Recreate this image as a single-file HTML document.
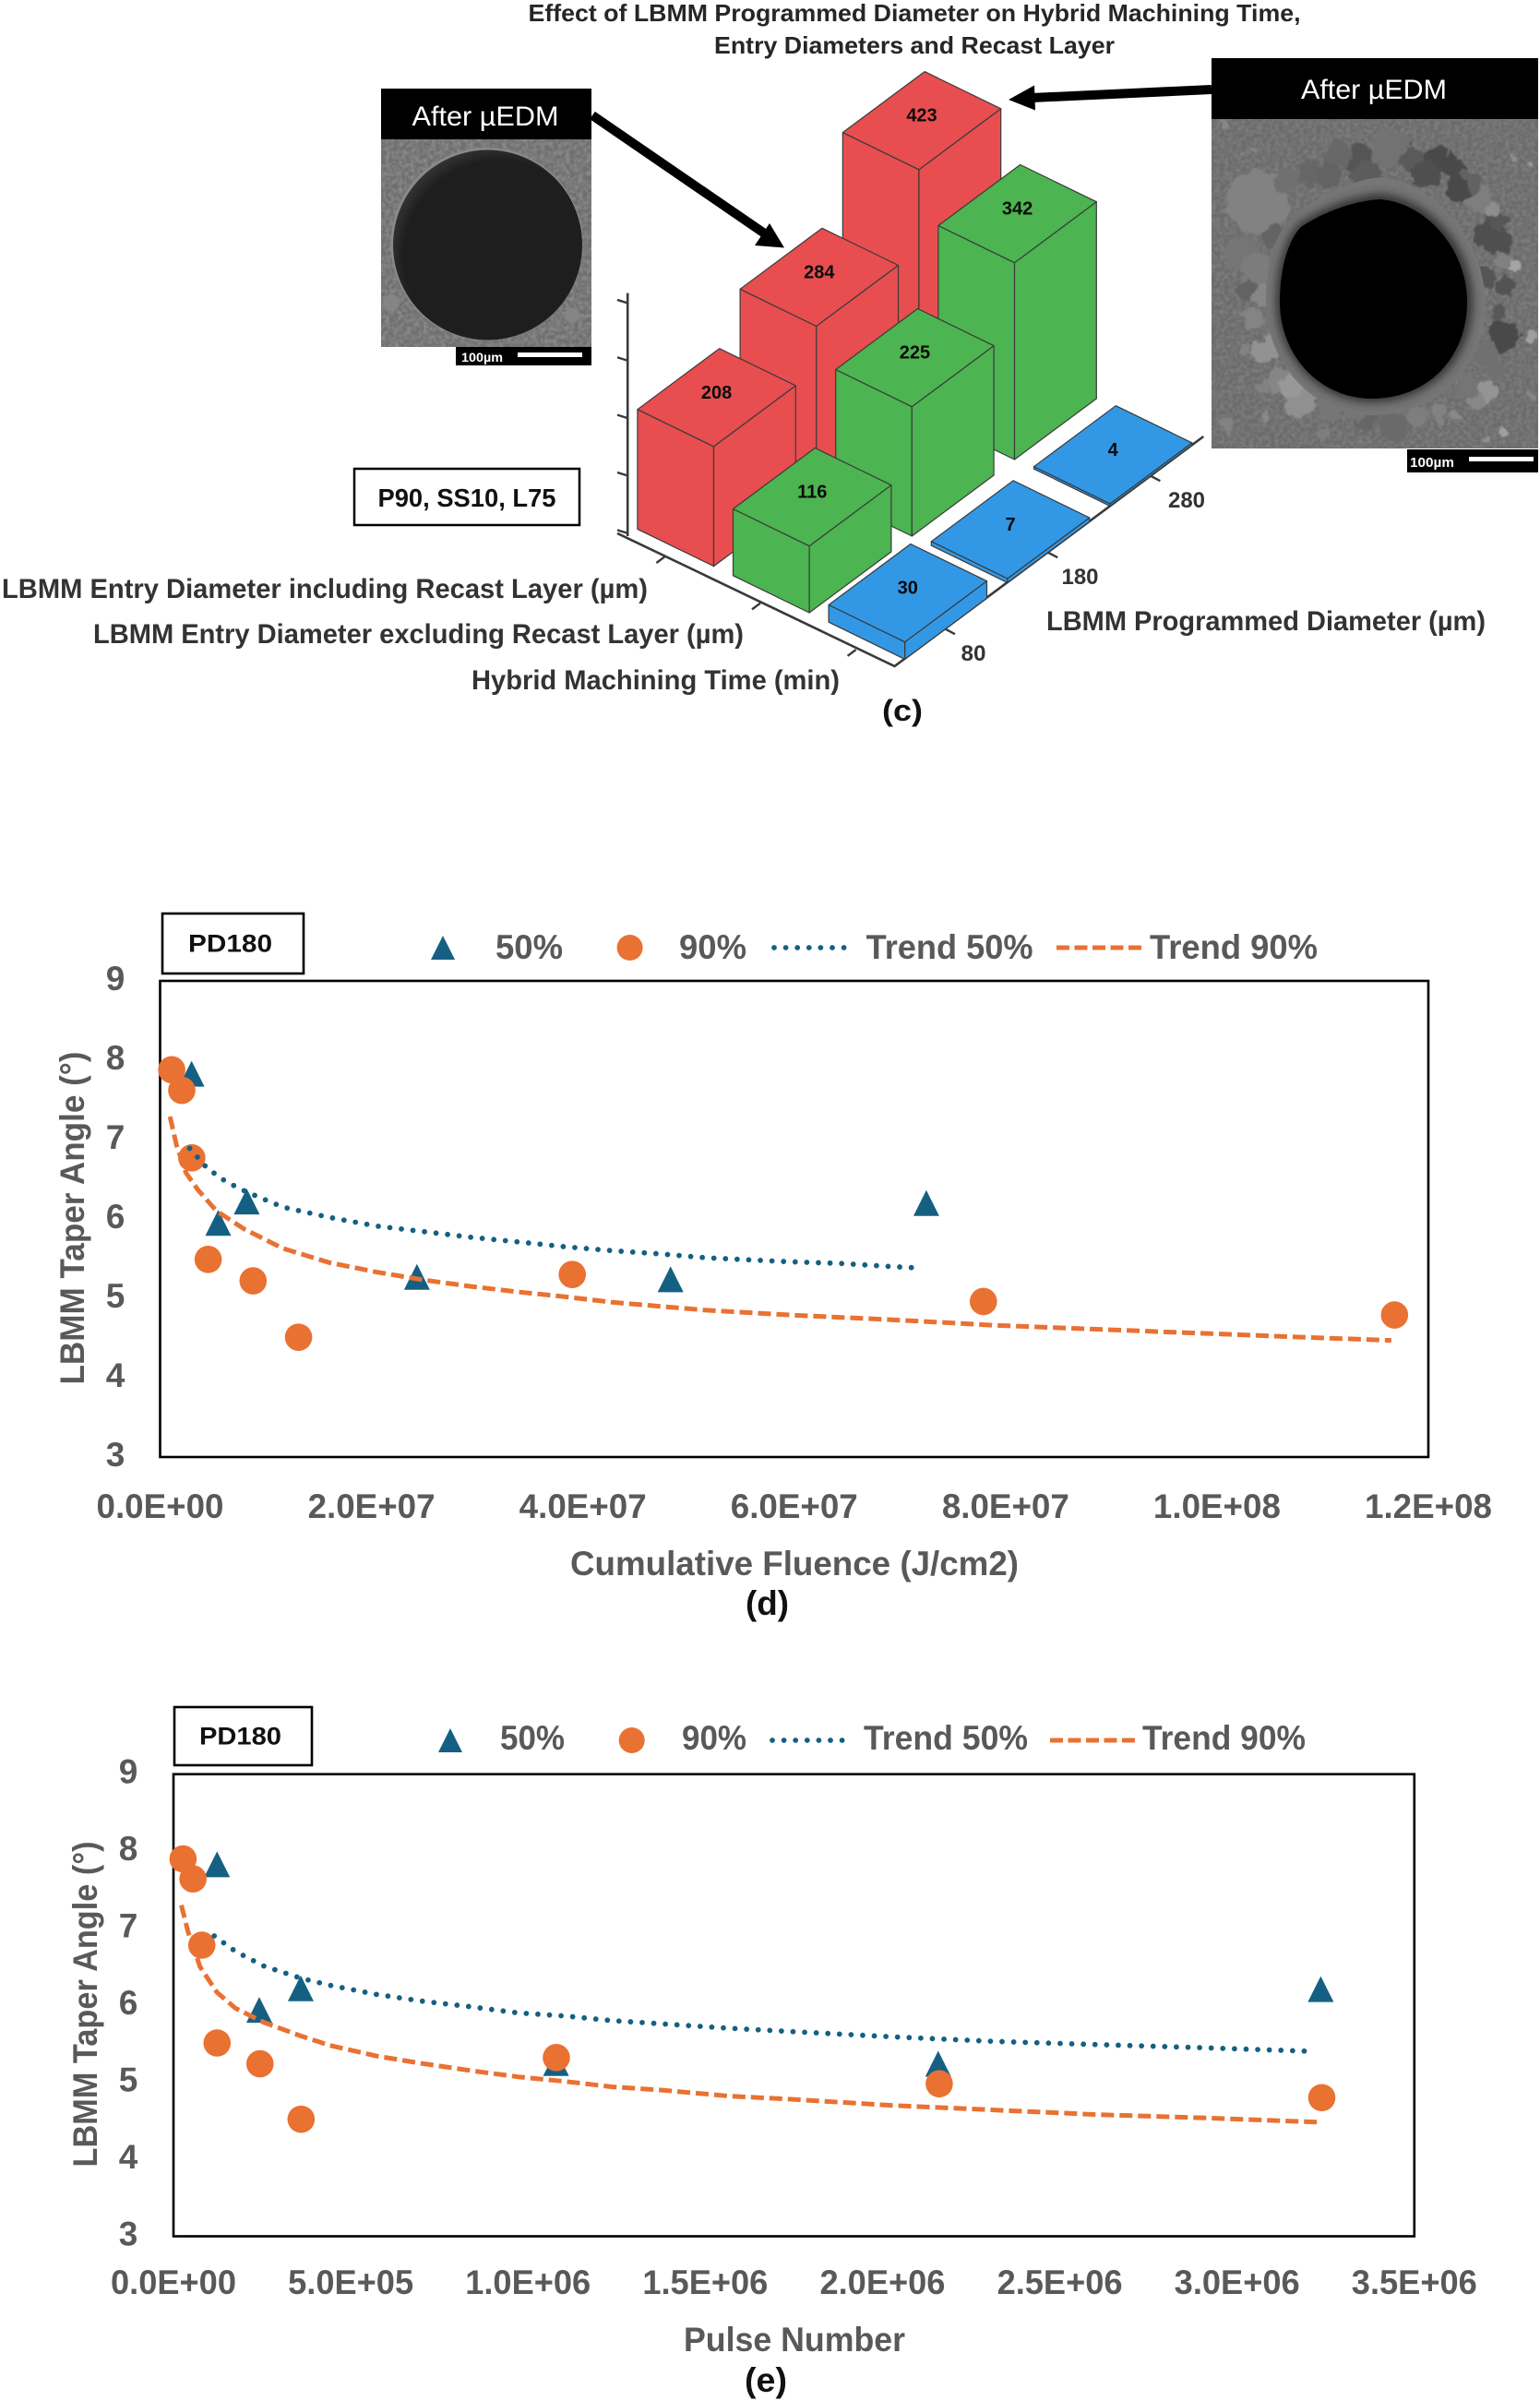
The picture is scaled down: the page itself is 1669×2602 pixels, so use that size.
<!DOCTYPE html>
<html lang="en">
<head>
<meta charset="utf-8">
<title>Effect of LBMM Programmed Diameter</title>
<style>
html,body{margin:0;padding:0;background:#fff;}
svg{display:block;}
text{font-family:"Liberation Sans",sans-serif;}
</style>
</head>
<body>
<svg id="fig" width="1669" height="2602" viewBox="0 0 1669 2602" xmlns="http://www.w3.org/2000/svg">
<defs>
<filter id="grain" x="0" y="0" width="100%" height="100%">
<feTurbulence type="fractalNoise" baseFrequency="0.22" numOctaves="2" seed="4"/>
<feColorMatrix type="matrix" values="0 0 0 0 0.5  0 0 0 0 0.5  0 0 0 0 0.5  1.4 0 0 0 -0.45"/>
</filter>
<filter id="rough" x="-10%" y="-10%" width="120%" height="120%">
<feTurbulence type="fractalNoise" baseFrequency="0.09" numOctaves="3" seed="9" result="n"/>
<feDisplacementMap in="SourceGraphic" in2="n" scale="14" xChannelSelector="R" yChannelSelector="G"/>
<feGaussianBlur stdDeviation="0.9"/>
</filter>
<filter id="soft" x="-20%" y="-20%" width="140%" height="140%"><feGaussianBlur stdDeviation="5"/></filter>
<radialGradient id="hole-left" cx="0.56" cy="0.56" r="0.6">
<stop offset="0.84" stop-color="#1e1e1e"/><stop offset="0.97" stop-color="#333"/><stop offset="1" stop-color="#5e5e5e"/>
</radialGradient>
</defs>
<rect x="0" y="0" width="1669" height="2602" fill="#fff"/>

<g font-weight="700" font-size="26" fill="#262626" text-anchor="middle">
<text x="991" y="23" textLength="837" lengthAdjust="spacingAndGlyphs">Effect of LBMM Programmed Diameter on Hybrid Machining Time,</text>
<text x="991" y="58" textLength="434" lengthAdjust="spacingAndGlyphs">Entry Diameters and Recast Layer</text>
</g>

<g id="bars3d"></g>

<g font-weight="700" font-size="30" fill="#333">
<text x="2" y="648" textLength="700" lengthAdjust="spacingAndGlyphs">LBMM Entry Diameter including Recast Layer (µm)</text>
<text x="101" y="697" textLength="705" lengthAdjust="spacingAndGlyphs">LBMM Entry Diameter excluding Recast Layer (µm)</text>
<text x="511" y="747" textLength="399" lengthAdjust="spacingAndGlyphs">Hybrid Machining Time (min)</text>
<text x="1134" y="683" textLength="476" lengthAdjust="spacingAndGlyphs">LBMM Programmed Diameter (µm)</text>
<text x="956" y="781" font-size="32" fill="#111" textLength="44" lengthAdjust="spacingAndGlyphs">(c)</text>
</g>

<g>
<rect x="384" y="508" width="244" height="61" fill="#fff" stroke="#000" stroke-width="2.5"/>
<text x="506" y="549" font-size="28" font-weight="700" text-anchor="middle" fill="#111" textLength="193" lengthAdjust="spacingAndGlyphs">P90, SS10, L75</text>
</g>

<g>
<rect x="413" y="151" width="228" height="225" fill="#6f6f6f"/>
<rect x="413" y="151" width="228" height="225" filter="url(#grain)" opacity="0.55"/>
<circle cx="424" cy="328" r="9" fill="#858585"/>
<circle cx="620" cy="342" r="8" fill="#858585"/>
<ellipse cx="527.5" cy="264.5" rx="104" ry="104.5" fill="#8a8a8a"/>
<ellipse cx="528.5" cy="265.5" rx="102.5" ry="103" fill="url(#hole-left)"/>
<rect x="413" y="96" width="228" height="55" fill="#000"/>
<text x="526" y="136" font-size="30" fill="#fff" text-anchor="middle" textLength="159" lengthAdjust="spacingAndGlyphs">After µEDM</text>
<rect x="494" y="376" width="147" height="20" fill="#000"/>
<text x="500" y="392" font-size="14" font-weight="700" fill="#fff" textLength="45" lengthAdjust="spacingAndGlyphs">100µm</text>
<rect x="561" y="382" width="70" height="5" fill="#fff"/>
</g>

<g>
<rect x="1313" y="129" width="354" height="357" fill="#6b6b6b"/>
<rect x="1313" y="129" width="354" height="357" filter="url(#grain)" opacity="0.35"/>
<g id="debris" filter="url(#rough)"></g>
<path d="M1498 192C1555 198 1610 262 1610 330C1610 400 1555 450 1487 450C1425 450 1372 395 1372 327C1372 282 1384 250 1400 236C1425 214 1465 194 1498 192Z" fill="#767676"/>
<path d="M1495 210C1550 214 1596 268 1596 327C1596 392 1547 436 1487 436C1428 436 1383 385 1383 327C1383 287 1394 255 1408 242C1432 226 1465 212 1495 210Z" fill="#333" filter="url(#soft)"/>
<path d="M1495 216C1545 219 1590 270 1590 327C1590 390 1545 432 1487 432C1430 432 1387 385 1387 327C1387 287 1398 258 1410 246C1432 231 1465 218 1495 216Z" fill="#000"/>
<rect x="1313" y="63" width="354" height="66" fill="#000"/>
<text x="1489" y="107" font-size="30" fill="#fff" text-anchor="middle" textLength="158" lengthAdjust="spacingAndGlyphs">After µEDM</text>
<rect x="1525" y="487" width="142" height="25" fill="#000"/>
<text x="1528" y="506" font-size="15" font-weight="700" fill="#fff" textLength="48" lengthAdjust="spacingAndGlyphs">100µm</text>
<rect x="1592" y="495" width="70" height="5" fill="#fff"/>
</g>

<g>
<line x1="642" y1="125" x2="830" y2="254" stroke="#000" stroke-width="10"/>
<polygon points="834,242 818,266 850,268.5" fill="#000"/>
<line x1="1313" y1="97" x2="1118" y2="106" stroke="#000" stroke-width="10"/>
<polygon points="1093,108 1121,92.5 1122,119.5" fill="#000"/>
</g>

<g id="chart-d"></g>
<g id="chart-e"></g>
</svg>

<script>
// ---------- Panel (c) data ----------
const barCategories = [80, 180, 280];
const redValues = [208, 284, 423];
const greenValues = [116, 225, 342];
const blueValues = [30, 7, 4];
const valueTicks = [0, 100, 200, 300, 400];

// ---------- Panel (d) data ----------
const dXTickLabels = ['0.0E+00', '2.0E+07', '4.0E+07', '6.0E+07', '8.0E+07', '1.0E+08', '1.2E+08'];
const dXTickValues = [0, 2e7, 4e7, 6e7, 8e7, 1e8, 1.2e8];
const yTickValues = [3, 4, 5, 6, 7, 8, 9];
const d50X = [2.98e6, 5.5e6, 8.2e6, 24.3e6, 48.3e6, 72.5e6];
const d50Y = [7.83, 5.95, 6.22, 5.27, 5.24, 6.2];
const d90X = [1.1e6, 2.05e6, 3.0e6, 4.55e6, 8.8e6, 13.1e6, 39e6, 77.9e6, 116.8e6];
const d90Y = [7.88, 7.62, 6.77, 5.49, 5.22, 4.51, 5.3, 4.96, 4.79];
const dTrend50X = [2.8e6, 4.45e6, 6.24e6, 8.2e6, 11.6e6, 16e6, 20.5e6, 25e6, 29.4e6, 33.9e6, 38.3e6, 42.8e6, 47.2e6, 51.7e6, 59.6e6, 64.4e6, 69.2e6, 72.1e6];
const dTrend50Y = [6.89, 6.64, 6.47, 6.34, 6.15, 6.02, 5.91, 5.84, 5.77, 5.71, 5.65, 5.6, 5.56, 5.51, 5.46, 5.44, 5.4, 5.38];
const dTrend90X = [0.93e6, 1.55e6, 2.45e6, 3.56e6, 5.34e6, 8e6, 11.6e6, 16e6, 20.5e6, 25e6, 29.4e6, 33.9e6, 38.3e6, 42.8e6, 47.2e6, 51.7e6, 59.6e6, 69.2e6, 78.9e6, 88.6e6, 98.3e6, 108e6, 116.5e6];
const dTrend90Y = [7.29, 6.93, 6.58, 6.37, 6.1, 5.87, 5.63, 5.45, 5.33, 5.23, 5.15, 5.08, 5.02, 4.95, 4.9, 4.85, 4.79, 4.73, 4.66, 4.61, 4.56, 4.51, 4.47];

// ---------- Panel (e) data ----------
const eXTickLabels = ['0.0E+00', '5.0E+05', '1.0E+06', '1.5E+06', '2.0E+06', '2.5E+06', '3.0E+06', '3.5E+06'];
const eXTickValues = [0, 5e5, 1e6, 1.5e6, 2e6, 2.5e6, 3e6, 3.5e6];
const e50X = [1.23e5, 2.42e5, 3.59e5, 1.079e6, 2.157e6, 3.236e6];
const e50Y = [7.83, 5.94, 6.22, 5.25, 5.24, 6.21];
const e90X = [2.7e4, 5.5e4, 8.0e4, 1.23e5, 2.44e5, 3.6e5, 1.08e6, 2.16e6, 3.239e6];
const e90Y = [7.9, 7.64, 6.78, 5.51, 5.24, 4.52, 5.32, 4.98, 4.8];
const eTrend50X = [1.15e5, 1.75e5, 2.54e5, 3.6e5, 4.4e5, 5.73e5, 7.06e5, 8.4e5, 9.72e5, 1.105e6, 1.238e6, 1.371e6, 1.57e6, 1.737e6, 2.025e6, 2.314e6, 2.603e6, 2.892e6, 3.222e6];
const eTrend50Y = [6.9, 6.7, 6.51, 6.35, 6.26, 6.14, 6.05, 5.98, 5.9, 5.86, 5.8, 5.76, 5.7, 5.66, 5.59, 5.53, 5.49, 5.45, 5.4];
const eTrend90X = [2.2e4, 4.2e4, 7.5e4, 1.22e5, 1.75e5, 2.54e5, 3.6e5, 4.4e5, 5.73e5, 7.06e5, 8.4e5, 9.72e5, 1.105e6, 1.238e6, 1.371e6, 1.57e6, 1.737e6, 2.025e6, 2.314e6, 2.603e6, 2.892e6, 3.24e6];
const eTrend90Y = [7.3, 6.94, 6.5, 6.17, 5.96, 5.78, 5.6, 5.48, 5.34, 5.24, 5.15, 5.07, 5.01, 4.94, 4.9, 4.82, 4.78, 4.7, 4.64, 4.58, 4.54, 4.48];

const NS = 'http://www.w3.org/2000/svg';
function make(parent, tag, attrs, txt) {
  const el = document.createElementNS(NS, tag);
  for (const k in attrs) el.setAttribute(k, attrs[k]);
  if (txt !== undefined) el.textContent = txt;
  parent.appendChild(el);
  return el;
}

// ---------- Panel (c): isometric bars ----------
(function () {
  const root = document.getElementById('bars3d');
  const BASE = [773.5, 613.6], SERIES_STEP = [103.6, 50.4], CAT_STEP = [111.2, -83];
  const LEFT = [-82.6, -40.2], RIGHT = [88.8, -66], UNIT = 0.6237;
  const AXIS_INK = '#3a3a3a';
  const groundY = 577.9;
  const hScale = v => v * UNIT;
  const basePoint = (c, s) => [BASE[0] + c * CAT_STEP[0] + s * SERIES_STEP[0], BASE[1] + c * CAT_STEP[1] + s * SERIES_STEP[1]];

  let el;
  // axes
  el = make(root, 'line', {x1: 680.2, y1: 317.6, x2: 680.2, y2: 581, stroke: AXIS_INK, 'stroke-width': 2.6});
  
  
  el = make(root, 'polyline', {points: '669,577.9 969.5,722 1304.3,473', fill: 'none', stroke: AXIS_INK, 'stroke-width': 2.6});
  
  
  valueTicks.forEach(v => {
    const y = groundY - hScale(v);
    const t = make(root, 'line', {x1: 669, y1: y - 3.5, x2: 680.2, y2: y, stroke: AXIS_INK, 'stroke-width': 2.4});
    
    
  });
  [redValues, greenValues, blueValues].forEach((_, s) => {
    const t = make(root, 'line', {x1: 720.4 + s * SERIES_STEP[0], y1: 603.3 + s * SERIES_STEP[1], x2: 711.4 + s * SERIES_STEP[0], y2: 610 + s * SERIES_STEP[1], stroke: AXIS_INK, 'stroke-width': 2.4});
    
    
  });
  barCategories.forEach((cat, c) => {
    const t = make(root, 'line', {x1: 1024 + c * CAT_STEP[0], y1: 681.4 + c * CAT_STEP[1], x2: 1035 + c * CAT_STEP[0], y2: 687.2 + c * CAT_STEP[1], stroke: AXIS_INK, 'stroke-width': 2.4});
    
    
    const l = make(root, 'text', {x: 1055 + c * 115.5, y: 716 - c * 83, 'font-size': 24, 'font-weight': 700, fill: '#333', 'text-anchor': 'middle', textLength: c === 0 ? 27 : 40, lengthAdjust: 'spacingAndGlyphs'}, String(cat));
    
    
  });

  const seriesValues = [redValues, greenValues, blueValues];
  const seriesColors = ['#E84E4F', '#4CB450', '#3298E5'];
  const seriesNames = ['recast-included', 'recast-excluded', 'machining-time'];
  const pts = a => a.map(p => p[0].toFixed(1) + ',' + p[1].toFixed(1)).join(' ');

  for (let c = barCategories.length - 1; c >= 0; c--) {
    for (let s = 0; s < seriesValues.length; s++) {
      const v = seriesValues[s][c];
      const [fx, fy] = basePoint(c, s);
      const h = hScale(v);
      const fb = [fx, fy], lb = [fx + LEFT[0], fy + LEFT[1]], rb = [fx + RIGHT[0], fy + RIGHT[1]];
      const ft = [fx, fy - h], lt = [lb[0], lb[1] - h], rt = [rb[0], rb[1] - h];
      const bt = [fx + LEFT[0] + RIGHT[0], fy + LEFT[1] + RIGHT[1] - h];
      const g = make(root, 'g', {fill: seriesColors[s], stroke: '#3a3a3a', 'stroke-width': 1.2, 'stroke-linejoin': 'round'});
      
      
      make(g, 'polygon', {points: pts([fb, lb, lt, ft])});
      make(g, 'polygon', {points: pts([fb, rb, rt, ft])});
      make(g, 'polygon', {points: pts([ft, lt, bt, rt])});
      const cx = (lt[0] + rt[0]) / 2, cy = (lt[1] + rt[1]) / 2;
      const lab = make(root, 'text', {x: cx, y: cy + 1, 'font-size': 20, 'font-weight': 700, fill: '#0b0b0b', 'text-anchor': 'middle'}, String(v));
      
      
    }
  }
})();

// ---------- Right SEM debris (decorative image detail) ----------
(function () {
  const root = document.getElementById('debris');
  const blobs = [
    [1363,219,34,'#828282'],[1345,275,18,'#747474'],[1362,292,18,'#7c7c7c'],[1352,315,12,'#636363'],[1358,345,12,'#848484'],
    [1368,382,12,'#929292'],[1385,412,13,'#868686'],[1410,436,17,'#909090'],[1440,444,13,'#767676'],[1480,452,14,'#666'],
    [1510,462,17,'#6a6a6a'],[1560,446,10,'#828282'],[1600,432,11,'#878787'],[1612,424,11,'#949494'],[1620,400,10,'#707070'],
    [1630,365,17,'#4a4a4a'],[1622,340,9,'#585858'],[1630,310,11,'#525252'],[1640,288,7,'#a5a5a5'],[1630,285,9,'#808080'],
    [1626,262,13,'#4f4f4f'],[1620,240,13,'#565656'],[1618,228,9,'#8e8e8e'],[1602,215,15,'#7e7e7e'],[1590,200,15,'#626262'],
    [1575,180,12,'#4a4a4a'],[1556,172,14,'#4a4a4a'],[1530,172,15,'#5a5a5a'],[1505,160,19,'#727272'],[1470,172,16,'#545454'],
    [1450,168,15,'#686868'],[1420,188,14,'#666'],[1395,197,14,'#707070'],[1545,190,16,'#505050'],[1580,205,14,'#4a4a4a'],
    [1480,190,16,'#5c5c5c'],[1440,192,14,'#646464'],[1610,255,14,'#505050'],[1608,300,12,'#545454'],[1610,385,14,'#707070'],
    [1380,255,12,'#646464'],[1368,320,12,'#868686'],[1378,375,12,'#929292'],[1400,418,13,'#989898'],[1470,442,13,'#747474'],
    [1535,452,12,'#7e7e7e'],[1590,420,12,'#747474'],
    [1660,365,6,'#a0a0a0'],[1325,135,4,'#888'],[1347,166,3,'#888'],[1360,160,3,'#858585'],[1640,170,3,'#909090'],[1657,180,3,'#979797'],
    [1330,460,9,'#828282'],[1350,380,5,'#828282'],[1370,450,5,'#888'],[1630,470,5,'#a0a0a0'],[1612,476,4,'#909090'],[1660,430,4,'#868686'],
    [1578,450,5,'#888'],[1435,470,6,'#7e7e7e'],[1370,420,7,'#828282'],[1345,410,5,'#7d7d7d']
  ];
  blobs.forEach(b => {
    const c = make(root, 'circle', {cx: b[0], cy: b[1], r: b[2], fill: b[3]});
    
    
  });
})();

// ---------- Panels (d) & (e) ----------
function drawScatter(cfg) {
  const root = cfg.root;
  const xScale = v => cfg.left + (v - cfg.xMin) / (cfg.xMax - cfg.xMin) * (cfg.right - cfg.left);
  const yScale = v => cfg.bottom - (v - 3) / 6 * (cfg.bottom - cfg.top);
  const GRAY = '#595959', BLUE = '#156082', ORANGE = '#E97132';
  let el;

  el = make(root, 'rect', {x: cfg.left, y: cfg.top, width: cfg.right - cfg.left, height: cfg.bottom - cfg.top, fill: '#fff', stroke: '#000', 'stroke-width': 2.6});
  
  

  cfg.yTicks.forEach(v => {
    const t = make(root, 'text', {x: cfg.yLabelX, y: yScale(v) - 3 + 13, 'font-size': 37, 'font-weight': 700, fill: GRAY, 'text-anchor': 'middle'}, String(v));
    
    
  });
  cfg.xTicks.forEach((v, i) => {
    const t = make(root, 'text', {x: xScale(v), y: cfg.xLabelY + 13, 'font-size': 37, 'font-weight': 700, fill: GRAY, 'text-anchor': 'middle', textLength: cfg.xLabelW, lengthAdjust: 'spacingAndGlyphs'}, cfg.xLabels[i]);
    
    
  });

  el = make(root, 'text', {x: 0, y: 0, transform: 'translate(' + (cfg.yTitleX + 12) + ' ' + cfg.yTitleY + ') rotate(-90)', 'font-size': 37, 'font-weight': 700, fill: GRAY, 'text-anchor': 'middle', textLength: cfg.yTitleLen, lengthAdjust: 'spacingAndGlyphs'}, 'LBMM Taper Angle (°)');
  
  
  el = make(root, 'text', {x: cfg.xTitleX0, y: cfg.xTitleY + 12, 'font-size': 37, 'font-weight': 700, fill: GRAY, textLength: cfg.xTitleLen, lengthAdjust: 'spacingAndGlyphs'}, cfg.xTitle);
  
  
  el = make(root, 'text', {x: cfg.panelX0, y: cfg.panelY + 12, 'font-size': 37, 'font-weight': 700, fill: '#111', textLength: cfg.panelW, lengthAdjust: 'spacingAndGlyphs'}, cfg.panelLabel);
  
  

  // PD180 box
  el = make(root, 'rect', {x: cfg.box[0], y: cfg.box[1], width: cfg.box[2], height: cfg.box[3], fill: '#fff', stroke: '#000', 'stroke-width': 2.6});
  
  
  el = make(root, 'text', {x: cfg.box[0] + cfg.box[2] / 2 - 3, y: cfg.box[1] + cfg.box[3] / 2 + 9, 'font-size': 27, 'font-weight': 700, fill: '#111', 'text-anchor': 'middle', textLength: cfg.boxTextW, lengthAdjust: 'spacingAndGlyphs'}, 'PD180');
  
  

  const tri = (cx, cy) => (cx - 14) + ',' + (cy + 14) + ' ' + cx + ',' + (cy - 14) + ' ' + (cx + 14) + ',' + (cy + 14);

  // marks
  cfg.x50.forEach((xv, i) => {
    const p = make(root, 'polygon', {points: tri(xScale(xv), yScale(cfg.y50[i])), fill: BLUE});
    
    
  });
  cfg.x90.forEach((xv, i) => {
    const p = make(root, 'circle', {cx: xScale(xv), cy: yScale(cfg.y90[i]), r: 14.8, fill: ORANGE});
    
    
  });
  const path = (xs, ys) => xs.map((v, i) => xScale(v).toFixed(1) + ',' + yScale(ys[i]).toFixed(1)).join(' ');
  el = make(root, 'polyline', {points: path(cfg.t50x, cfg.t50y), fill: 'none', stroke: BLUE, 'stroke-width': 5.8, 'stroke-dasharray': '0 12.6', 'stroke-linecap': 'round', 'stroke-linejoin': 'round'});
  
  
  el = make(root, 'polyline', {points: path(cfg.t90x, cfg.t90y), fill: 'none', stroke: ORANGE, 'stroke-width': 5, 'stroke-dasharray': '14 6', 'stroke-linejoin': 'round'});
  
  

  // legend
  const L = cfg.legend, ly = L.y;
  el = make(root, 'polygon', {points: (L.tri - 13) + ',' + (ly + 13) + ' ' + L.tri + ',' + (ly - 13) + ' ' + (L.tri + 13) + ',' + (ly + 13), fill: BLUE});
  
  
  el = make(root, 'text', {x: L.t50[0], y: L.ty + 13, 'font-size': 37, 'font-weight': 700, fill: GRAY, textLength: L.t50[1], lengthAdjust: 'spacingAndGlyphs'}, '50%');
  
  
  el = make(root, 'circle', {cx: L.circ, cy: ly, r: 14, fill: ORANGE});
  
  
  el = make(root, 'text', {x: L.t90[0], y: L.ty + 13, 'font-size': 37, 'font-weight': 700, fill: GRAY, textLength: L.t90[1], lengthAdjust: 'spacingAndGlyphs'}, '90%');
  
  
  el = make(root, 'line', {x1: L.dot[0], y1: ly, x2: L.dot[1], y2: ly, stroke: BLUE, 'stroke-width': 5.8, 'stroke-dasharray': '0 12.6', 'stroke-linecap': 'round'});
  
  
  el = make(root, 'text', {x: L.tt50[0], y: L.ty + 13, 'font-size': 37, 'font-weight': 700, fill: GRAY, textLength: L.tt50[1], lengthAdjust: 'spacingAndGlyphs'}, 'Trend 50%');
  
  
  el = make(root, 'line', {x1: L.dash[0], y1: ly, x2: L.dash[1], y2: ly, stroke: ORANGE, 'stroke-width': 5, 'stroke-dasharray': '14 5.5'});
  
  
  el = make(root, 'text', {x: L.tt90[0], y: L.ty + 13, 'font-size': 37, 'font-weight': 700, fill: GRAY, textLength: L.tt90[1], lengthAdjust: 'spacingAndGlyphs'}, 'Trend 90%');
  
  
}

drawScatter({
  root: document.getElementById('chart-d'),
  left: 173.5, right: 1548, top: 1063, bottom: 1579, xMin: 0, xMax: 1.2e8,
  yTicks: yTickValues, xTicks: dXTickValues, xLabels: dXTickLabels,
  yLabelX: 125, xLabelY: 1632, xLabelW: 138,
  yTitleX: 79, yTitleY: 1320, yTitleLen: 361,
  xTitle: 'Cumulative Fluence (J/cm2)', xTitleX0: 618, xTitleY: 1695, xTitleLen: 486,
  panelLabel: '(d)', panelX0: 808, panelY: 1738, panelW: 47,
  box: [176, 990, 153, 65], boxTextW: 91,
  x50: d50X, y50: d50Y, x90: d90X, y90: d90Y,
  t50x: dTrend50X, t50y: dTrend50Y, t90x: dTrend90X, t90y: dTrend90Y,
  legend: {y: 1027, ty: 1026, tri: 480, t50: [537, 73], circ: 682.6, t90: [736, 73], dot: [839, 925], tt50: [938.6, 181], dash: [1145, 1238], tt90: [1246, 182]}
});

drawScatter({
  root: document.getElementById('chart-e'),
  left: 188, right: 1532.8, top: 1922.7, bottom: 2423.5, xMin: 0, xMax: 3.5e6,
  yTicks: yTickValues, xTicks: eXTickValues, xLabels: eXTickLabels,
  yLabelX: 139, xLabelY: 2473, xLabelW: 136,
  yTitleX: 93, yTitleY: 2172, yTitleLen: 353,
  xTitle: 'Pulse Number', xTitleX0: 741, xTitleY: 2536, xTitleLen: 240,
  panelLabel: '(e)', panelX0: 807, panelY: 2580, panelW: 46,
  box: [189, 1850, 149, 63], boxTextW: 89,
  x50: e50X, y50: e50Y, x90: e90X, y90: e90Y,
  t50x: eTrend50X, t50y: eTrend50Y, t90x: eTrend90X, t90y: eTrend90Y,
  legend: {y: 1886, ty: 1883, tri: 488, t50: [542, 70], circ: 684.7, t90: [739, 70], dot: [837, 921], tt50: [936, 178], dash: [1138, 1230], tt90: [1238, 177]}
});
</script>
</body>
</html>
